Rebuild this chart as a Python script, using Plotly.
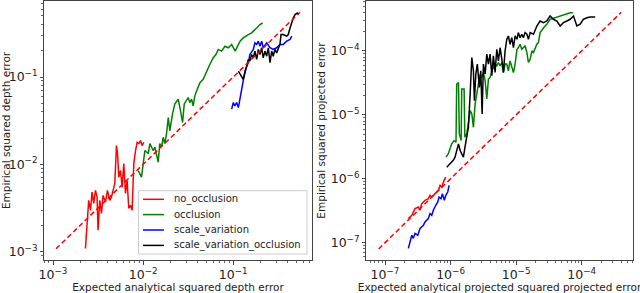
import plotly.graph_objects as go

# ---------------- data: depth error (left panel) ----------------
no_occ_depth_x = [2.29e-3, 2.41e-3, 2.49e-3, 2.61e-3, 2.71e-3, 2.83e-3, 2.96e-3, 3.08e-3, 3.16e-3, 3.30e-3,
                  3.45e-3, 3.59e-3, 3.82e-3, 4.02e-3, 4.27e-3, 4.45e-3, 4.64e-3, 4.85e-3, 5.06e-3, 5.20e-3,
                  5.37e-3, 5.61e-3, 5.85e-3, 6.10e-3, 6.37e-3, 6.64e-3, 6.93e-3, 7.24e-3, 7.55e-3, 7.88e-3,
                  8.24e-3, 8.58e-3, 8.96e-3, 9.36e-3, 9.75e-3, 1.02e-2]
no_occ_depth_y = [1.09e-3, 2.29e-3, 3.87e-3, 2.98e-3, 4.81e-3, 3.58e-3, 5.03e-3, 4.22e-3, 1.76e-3, 3.87e-3,
                  2.75e-3, 4.41e-3, 3.70e-3, 5.03e-3, 3.87e-3, 4.22e-3, 5.26e-3, 6.04e-3, 1.64e-2, 1.33e-2,
                  7.13e-3, 8.50e-3, 5.48e-3, 1.02e-2, 4.65e-3, 6.53e-3, 3.14e-3, 3.40e-3, 2.98e-3, 1.02e-2,
                  1.44e-2, 1.79e-2, 1.73e-2, 1.87e-2, 1.64e-2, 1.79e-2]

occ_depth_x = [8.80e-3, 9.60e-3, 1.045e-2, 1.14e-2, 1.19e-2, 1.29e-2, 1.35e-2, 1.47e-2, 1.53e-2, 1.60e-2,
               1.67e-2, 1.74e-2, 1.82e-2, 1.90e-2, 1.98e-2, 2.12e-2, 2.25e-2, 2.45e-2, 2.56e-2, 2.74e-2,
               2.86e-2, 3.03e-2, 3.16e-2, 3.30e-2, 3.45e-2, 3.59e-2, 3.75e-2, 3.92e-2, 4.27e-2, 4.64e-2,
               5.06e-2, 5.51e-2, 6.00e-2, 6.43e-2, 6.81e-2, 7.43e-2, 8.09e-2, 8.80e-2, 9.60e-2, 0.105,
               0.119, 0.129, 0.147, 0.160, 0.182, 0.198, 0.212]
occ_depth_y = [8.50e-3, 7.13e-3, 1.44e-2, 1.33e-2, 1.73e-2, 1.44e-2, 1.57e-2, 1.06e-2, 1.73e-2, 1.57e-2,
               2.04e-2, 1.73e-2, 2.24e-2, 3.44e-2, 2.43e-2, 3.79e-2, 4.92e-2, 5.57e-2, 4.47e-2, 3.02e-2,
               4.92e-2, 5.33e-2, 5.81e-2, 5.09e-2, 5.57e-2, 4.68e-2, 6.08e-2, 6.93e-2, 8.61e-2, 9.42e-2,
               0.117, 0.140, 0.166, 0.181, 0.207, 0.198, 0.225, 0.216, 0.236, 0.198,
               0.257, 0.280, 0.306, 0.320, 0.364, 0.398, 0.415]

scale_depth_x = [9.6e-2, 0.100, 0.104, 0.109, 0.114, 0.119, 0.124, 0.129, 0.135, 0.147,
                 0.153, 0.167, 0.174, 0.182, 0.190, 0.198, 0.207, 0.215, 0.235, 0.256,
                 0.278, 0.303, 0.330, 0.359, 0.392, 0.427, 0.446]
scale_depth_y = [4.29e-2, 5.09e-2, 4.68e-2, 5.09e-2, 4.47e-2, 5.81e-2, 7.55e-2, 9.0e-2, 0.117, 0.146,
                 0.181, 0.207, 0.246, 0.236, 0.257, 0.225, 0.257, 0.216, 0.246, 0.216,
                 0.207, 0.216, 0.236, 0.236, 0.257, 0.269, 0.293]

scale_occ_depth_x = [0.114, 0.124, 0.129, 0.135, 0.141, 0.147, 0.153, 0.160, 0.167, 0.174,
                     0.182, 0.190, 0.198, 0.207, 0.215, 0.225, 0.235, 0.245, 0.256, 0.267,
                     0.278, 0.290, 0.303, 0.316, 0.330, 0.339, 0.359, 0.392, 0.408, 0.427,
                     0.446, 0.464, 0.485, 0.514, 0.533]
scale_occ_depth_y = [0.117, 9.82e-2, 9.42e-2, 0.112, 0.140, 0.159, 0.152, 0.181, 0.166, 0.198,
                     0.159, 0.207, 0.181, 0.216, 0.166, 0.198, 0.173, 0.216, 0.146, 0.198,
                     0.173, 0.207, 0.189, 0.216, 0.236, 0.306, 0.306, 0.293, 0.306, 0.364,
                     0.434, 0.473, 0.518, 0.540, 0.518]

depth_diag = [1.08e-3, 0.55]

# ---------------- data: projected error (right panel) ----------------
no_occ_proj_x = [2.27e-7, 2.56e-7, 2.87e-7, 3.22e-7, 3.42e-7, 3.63e-7, 4.08e-7, 4.58e-7, 4.86e-7, 5.16e-7,
                 5.80e-7, 6.51e-7, 6.92e-7, 7.34e-7, 7.96e-7, 8.45e-7]
no_occ_proj_y = [2.39e-7, 2.69e-7, 3.42e-7, 3.62e-7, 3.22e-7, 4.09e-7, 4.61e-7, 4.90e-7, 5.51e-7, 5.19e-7,
                 5.86e-7, 6.59e-7, 7.89e-7, 7.43e-7, 9.44e-7, 1.06e-6]

scale_proj_x = [2.27e-7, 2.41e-7, 2.56e-7, 2.70e-7, 2.87e-7, 3.16e-7, 3.42e-7, 3.85e-7, 4.08e-7, 4.58e-7,
                4.86e-7, 5.16e-7, 5.46e-7, 5.94e-7, 6.38e-7, 6.67e-7, 7.16e-7, 7.50e-7, 8.04e-7, 8.45e-7,
                9.06e-7, 9.49e-7]
scale_proj_y = [8.15e-8, 1.10e-7, 1.31e-7, 1.17e-7, 1.40e-7, 1.31e-7, 1.67e-7, 1.88e-7, 2.12e-7, 2.39e-7,
                2.86e-7, 2.69e-7, 3.22e-7, 3.85e-7, 4.34e-7, 5.19e-7, 4.90e-7, 5.86e-7, 4.61e-7, 5.51e-7,
                6.21e-7, 7.89e-7]

occ_proj_x = [8.53e-7, 9.25e-7, 1.04e-6, 1.13e-6, 1.21e-6, 1.24e-6, 1.32e-6, 1.36e-6, 1.45e-6, 1.48e-6,
              1.61e-6, 1.65e-6, 1.77e-6, 1.87e-6, 1.99e-6, 2.11e-6, 2.23e-6, 2.37e-6, 2.51e-6, 2.66e-6,
              2.82e-6, 2.99e-6, 3.17e-6, 3.37e-6, 3.57e-6, 3.78e-6, 4.01e-6, 4.26e-6, 4.50e-6, 4.78e-6,
              5.07e-6, 5.37e-6, 5.70e-6, 6.05e-6, 6.40e-6, 6.79e-6, 7.21e-6, 7.62e-6, 8.09e-6, 8.59e-6,
              9.10e-6, 9.66e-6, 1.03e-5, 1.08e-5, 1.15e-5, 1.22e-5, 1.29e-5, 1.37e-5, 1.46e-5, 1.54e-5,
              1.64e-5, 1.74e-5, 1.84e-5, 2.07e-5, 2.19e-5, 2.32e-5, 2.61e-5, 2.94e-5, 3.30e-5, 3.94e-5,
              4.70e-5, 5.60e-5, 6.67e-5, 7.34e-5]
occ_proj_y = [2.18e-6, 2.46e-6, 3.52e-6, 3.96e-6, 3.73e-6, 3.03e-5, 3.21e-5, 5.04e-6, 3.96e-6, 2.53e-5,
              2.53e-5, 4.47e-6, 5.04e-6, 7.21e-6, 1.16e-5, 1.03e-5, 6.38e-6, 1.48e-5, 2.12e-5, 3.41e-5,
              4.34e-5, 3.84e-5, 4.59e-5, 3.41e-5, 1.77e-5, 3.62e-5, 3.84e-5, 4.88e-5, 5.50e-5, 6.21e-5,
              5.84e-5, 6.58e-5, 5.84e-5, 6.58e-5, 4.59e-5, 6.21e-5, 6.21e-5, 4.88e-5, 6.98e-5, 5.50e-5,
              4.59e-5, 6.21e-5, 1.06e-4, 1.12e-4, 1.27e-4, 1.06e-4, 1.12e-4, 1.20e-4, 9.42e-5, 6.58e-5,
              7.43e-5, 1.00e-4, 9.42e-5, 1.27e-4, 1.35e-4, 1.93e-4, 2.28e-4, 2.61e-4, 3.12e-4, 3.30e-4,
              3.51e-4, 3.73e-4, 3.95e-4, 3.95e-4]

scale_occ_proj_x = [8.75e-7, 9.83e-7, 1.10e-6, 1.17e-6, 1.24e-6, 1.32e-6, 1.40e-6, 1.48e-6, 1.57e-6, 1.66e-6,
                    1.77e-6, 1.87e-6, 1.99e-6, 2.11e-6, 2.23e-6, 2.31e-6, 2.43e-6, 2.56e-6, 2.75e-6, 2.89e-6,
                    3.03e-6, 3.17e-6, 3.37e-6, 3.57e-6, 3.78e-6, 4.01e-6, 4.26e-6, 4.50e-6, 4.78e-6, 5.07e-6,
                    5.37e-6, 5.70e-6, 6.05e-6, 6.40e-6, 6.79e-6, 7.21e-6, 7.62e-6, 8.09e-6, 8.59e-6, 9.10e-6,
                    9.66e-6, 1.03e-5, 1.08e-5, 1.15e-5, 1.22e-5, 1.29e-5, 1.37e-5, 1.46e-5, 1.54e-5, 1.64e-5,
                    1.84e-5, 2.07e-5, 2.32e-5, 2.61e-5, 2.94e-5, 3.30e-5, 3.71e-5, 4.18e-5, 4.70e-5, 5.27e-5,
                    5.94e-5, 6.67e-5, 7.50e-5, 8.45e-5, 9.49e-5, 1.06e-4, 1.20e-4, 1.35e-4, 1.61e-4]
scale_occ_proj_y = [1.52e-6, 1.72e-6, 1.94e-6, 2.18e-6, 2.77e-6, 3.52e-6, 2.77e-6, 2.46e-6, 2.18e-6, 3.12e-6,
                    5.04e-6, 6.38e-6, 2.12e-5, 7.87e-5, 4.88e-5, 1.66e-5, 4.34e-5, 6.21e-5, 2.68e-5, 4.88e-5,
                    1.03e-5, 6.21e-5, 4.34e-5, 8.89e-5, 6.21e-5, 8.89e-5, 4.08e-5, 8.36e-5, 4.59e-5, 1.06e-4,
                    6.98e-5, 1.12e-4, 7.43e-5, 4.59e-5, 1.00e-4, 1.52e-4, 1.71e-4, 1.27e-4, 1.61e-4, 1.12e-4,
                    1.71e-4, 1.52e-4, 1.93e-4, 1.61e-4, 1.82e-4, 1.61e-4, 1.93e-4, 1.82e-4, 1.52e-4, 1.93e-4,
                    1.82e-4, 2.45e-4, 2.93e-4, 2.76e-4, 2.93e-4, 3.51e-4, 3.12e-4, 2.93e-4, 2.45e-4, 2.76e-4,
                    2.93e-4, 3.12e-4, 3.51e-4, 2.45e-4, 2.61e-4, 3.12e-4, 3.30e-4, 3.39e-4, 3.39e-4]

proj_diag = [8.0e-8, 4.0e-4]

series_names = ["no_occlusion", "occlusion", "scale_variation", "scale_variation_occlusion"]
series_colors = ["#ff0000", "#008000", "#0000ff", "#000000"]

# ---------------- figure ----------------
FONT = "DejaVu Sans"
W, H = 640, 293
fig = go.Figure()

depth_sets = [(no_occ_depth_x, no_occ_depth_y), (occ_depth_x, occ_depth_y),
              (scale_depth_x, scale_depth_y), (scale_occ_depth_x, scale_occ_depth_y)]
proj_sets = [(no_occ_proj_x, no_occ_proj_y), (occ_proj_x, occ_proj_y),
             (scale_proj_x, scale_proj_y), (scale_occ_proj_x, scale_occ_proj_y)]

for (xs, ys), name, col in zip(depth_sets, series_names, series_colors):
    fig.add_trace(go.Scatter(x=xs, y=ys, mode="lines", name=name, showlegend=False,
                             line=dict(color=col, width=1.5), xaxis="x", yaxis="y"))
fig.add_trace(go.Scatter(x=depth_diag, y=depth_diag, mode="lines", showlegend=False,
                         line=dict(color="#ff0000", width=1.5, dash="5px,3px"), xaxis="x", yaxis="y"))

for (xs, ys), name, col in zip(proj_sets, series_names, series_colors):
    fig.add_trace(go.Scatter(x=xs, y=ys, mode="lines", name=name, showlegend=False,
                             line=dict(color=col, width=1.5), xaxis="x2", yaxis="y2"))
fig.add_trace(go.Scatter(x=proj_diag, y=proj_diag, mode="lines", showlegend=False,
                         line=dict(color="#ff0000", width=1.5, dash="5px,3px"), xaxis="x2", yaxis="y2"))

ytop = 1 - 1 / H
ybot = 1 - 260 / H

axis_common = dict(type="log", showline=True, linecolor="#444", linewidth=1, mirror=True,
                   showgrid=False, zeroline=False, ticks="outside", ticklen=3.5, tickwidth=1,
                   tickcolor="#444", dtick=1, exponentformat="power", automargin=False,
                   tickfont=dict(family=FONT, size=10, color="#222"),
                   minor=dict(ticks="outside", ticklen=2, tickwidth=0.8, tickcolor="#666",
                              dtick="D1", showgrid=False))

title_font = dict(family=FONT, size=10.5, color="#222")

# ---------------- legend (drawn in the left panel, paper pixels) ----------------
def px(x):
    return x / W


def py(y):
    return 1 - y / H


shapes = [dict(type="rect", xref="paper", yref="paper", x0=px(138.5), x1=px(307), y0=py(254), y1=py(190.7),
               line=dict(color="#cccccc", width=1), fillcolor="rgba(255,255,255,0.8)", layer="above")]
annotations = []
legend_rows = [199.3, 214.6, 230.0, 245.4]
for name, col, yrow in zip(series_names, series_colors, legend_rows):
    shapes.append(dict(type="line", xref="paper", yref="paper", x0=px(143), x1=px(164), y0=py(yrow), y1=py(yrow),
                       line=dict(color=col, width=1.5), layer="above"))
    annotations.append(dict(text=name, xref="paper", yref="paper", x=px(171.5), y=py(yrow), xanchor="left",
                            yanchor="middle", showarrow=False, font=dict(family=FONT, size=10, color="#222")))

fig.update_layout(
    width=W, height=H,
    margin=dict(l=0, r=0, t=0, b=0),
    paper_bgcolor="white", plot_bgcolor="white",
    font=dict(family=FONT, size=10.5, color="#222"),
    showlegend=False,
    xaxis=dict(axis_common, domain=[44 / W, 312 / W], range=[-3.10, -0.126], anchor="y",
               title=dict(text="Expected analytical squared depth error", standoff=2, font=title_font)),
    yaxis=dict(axis_common, domain=[ybot, ytop], range=[-3.095, -0.13], anchor="x",
               title=dict(text="Empirical squared depth error", standoff=3, font=title_font)),
    xaxis2=dict(axis_common, domain=[366 / W, 633 / W], range=[-7.29, -3.217], anchor="y2",
                title=dict(text="Expected analytical projected squared projected error", standoff=2,
                           font=title_font)),
    yaxis2=dict(axis_common, domain=[ybot, ytop], range=[-7.27, -3.22], anchor="x2",
                title=dict(text="Empirical squared projected error", standoff=3, font=title_font)),
    shapes=shapes,
    annotations=annotations,
)

fig.write_html("out.html", config={"displayModeBar": False},
               post_script="document.body.style.margin='0';")
